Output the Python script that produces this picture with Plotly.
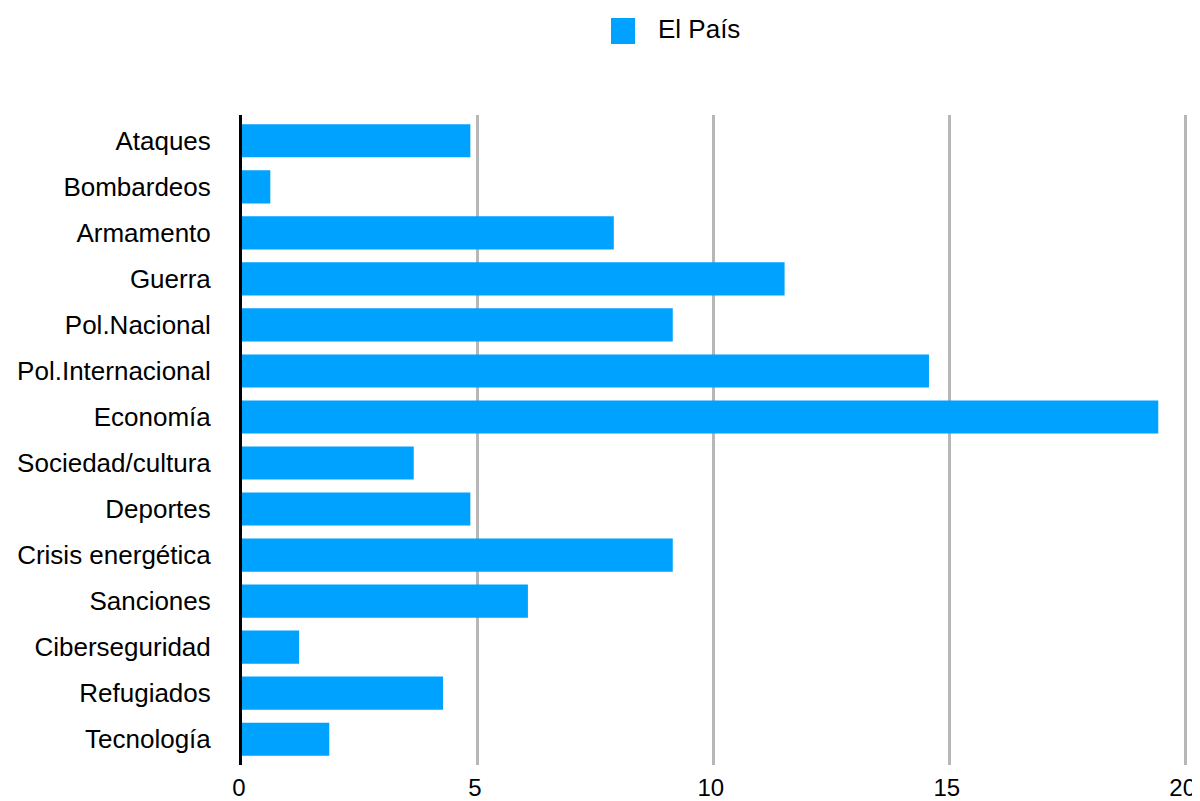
import plotly.graph_objects as go

categories = ["Ataques", "Bombardeos", "Armamento", "Guerra", "Pol.Nacional",
              "Pol.Internacional", "Economía", "Sociedad/cultura", "Deportes",
              "Crisis energética", "Sanciones", "Ciberseguridad", "Refugiados",
              "Tecnología"]
el_pais = [4.84, 0.6, 7.88, 11.5, 9.13, 14.56, 19.42, 3.64, 4.84, 9.13, 6.06, 1.21, 4.26, 1.85]
x_ticks = [0, 5, 10, 15, 20]
series_name = "El País"

BAR = "#00a2ff"
GRID = "#b7b7b7"
FONT = "Liberation Sans, Arial, sans-serif"

OFF = 8  # page body margin
W, H = 1200 - OFF, 801 - OFF
L, T = 242 - OFF, 115 - OFF
PW, PH = 946, 650
R, B = W - L - PW, H - T - PH

def px(x):
    return (x - OFF - L) / PW

def py(y):
    return (T + PH - (y - OFF)) / PH

fig = go.Figure()
fig.add_trace(go.Bar(
    x=el_pais, y=categories, orientation="h", name=series_name,
    marker=dict(color=BAR, line=dict(width=0)), showlegend=False,
))

fig.update_layout(
    width=W, height=H,
    margin=dict(l=L, r=R, t=T, b=B, pad=0, autoexpand=False),
    paper_bgcolor="white", plot_bgcolor="white",
    font=dict(family=FONT, size=26, color="#000000"),
    bargap=0.28,
    showlegend=False,
    xaxis=dict(
        range=[0, 20.05], tickvals=x_ticks, ticktext=[str(v) for v in x_ticks],
        showgrid=True, gridcolor=GRID, gridwidth=3,
        zeroline=False, showline=False, ticks="", automargin=False,
        tickfont=dict(size=24, color="#000000"),
        ticklabelstandoff=6, ticklabelshift=-3,
    ),
    yaxis=dict(
        type="category", categoryorder="array", categoryarray=categories,
        range=[13.56, -0.56], automargin=False,
        showgrid=False, zeroline=False,
        showline=True, linecolor="#000000", linewidth=3,
        ticks="", tickfont=dict(size=26, color="#000000"),
        ticklabelstandoff=23,
    ),
    shapes=[dict(
        type="rect", xref="paper", yref="paper",
        x0=px(611), x1=px(635), y0=py(44), y1=py(18),
        fillcolor=BAR, line=dict(width=0),
    )],
    annotations=[dict(
        text=series_name, xref="paper", yref="paper",
        x=px(656), y=py(29), xanchor="left", yanchor="middle",
        showarrow=False, font=dict(size=26, color="#000000"),
    )],
)

fig.write_html("out.html")
